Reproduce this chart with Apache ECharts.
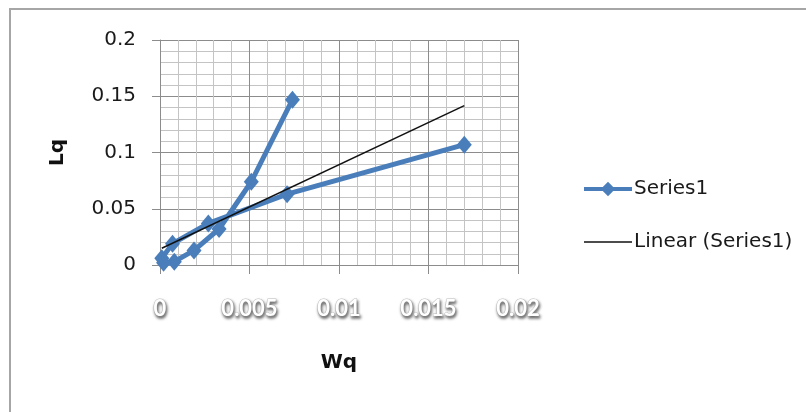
<!DOCTYPE html>
<html>
<head>
<meta charset="utf-8">
<script src="https://cdn.jsdelivr.net/npm/echarts@6/dist/echarts.min.js"></script>
<style>
html,body{margin:0;padding:0;background:#fff;}
#chart{width:806px;height:412px;}
</style>
</head>
<body>
<div id="chart"></div>
<script>
// Data (Wq, Lq), in drawing order
const wq = [0.0074, 0.0051, 0.0033, 0.0019, 0.0008, 0.0002, 0.0001, 0.0007, 0.0027, 0.0071, 0.0170];
const lq = [0.147, 0.074, 0.032, 0.013, 0.003, 0.002, 0.006, 0.019, 0.037, 0.063, 0.107];
const seriesName = 'Series1';
const trendName = 'Linear (Series1)';
const xTicks = [0, 0.005, 0.01, 0.015, 0.02];
const yTicks = [0, 0.05, 0.1, 0.15, 0.2];

// Least-squares linear trendline
const n = wq.length;
const mx = wq.reduce((a, b) => a + b, 0) / n;
const my = lq.reduce((a, b) => a + b, 0) / n;
let sxy = 0, sxx = 0;
for (let i = 0; i < n; i++) { sxy += (wq[i] - mx) * (lq[i] - my); sxx += (wq[i] - mx) ** 2; }
const slope = sxy / sxx, icpt = my - slope * mx;
const xmin = Math.min(...wq), xmax = Math.max(...wq);
const trend = [[xmin, icpt + slope * xmin], [xmax, icpt + slope * xmax]];

const chart = echarts.init(document.getElementById('chart'));
const font = 'Lato, "Liberation Sans", sans-serif';
const wide = '"DejaVu Sans", sans-serif';
chart.setOption({
  animation: false,
  backgroundColor: '#fff',
  graphic: [{
    type: 'rect', shape: { x: 10, y: 9, width: 820, height: 420 },
    style: { fill: 'none', stroke: '#a6a6a6', lineWidth: 2 }, silent: true
  }],
  grid: { left: 160, right: 288, top: 40, bottom: 147 },
  xAxis: {
    type: 'value', min: xTicks[0], max: xTicks[xTicks.length - 1], interval: 0.005,
    name: 'Wq', nameLocation: 'middle', nameGap: 88,
    nameTextStyle: { fontFamily: wide, fontWeight: 'bold', fontSize: 20, color: '#111' },
    axisLine: { show: true, onZero: false, lineStyle: { color: '#8c8c8c', width: 1 } },
    axisTick: { show: true, length: 9, lineStyle: { color: '#8c8c8c' } },
    axisLabel: {
      margin: 33, fontFamily: font, fontWeight: 'bold', fontSize: 22, color: '#ffffff',
      textBorderColor: '#c8c8c8', textBorderWidth: 1,
      textShadowColor: 'rgba(0,0,0,0.55)', textShadowBlur: 3, textShadowOffsetX: 1, textShadowOffsetY: 2,
      formatter: v => String(v)
    },
    splitLine: { show: true, lineStyle: { color: '#8c8c8c', width: 1 } },
    minorTick: { show: false, splitNumber: 5 },
    minorSplitLine: { show: true, lineStyle: { color: '#c4c4c4', width: 1 } }
  },
  yAxis: {
    type: 'value', min: yTicks[0], max: yTicks[yTicks.length - 1], interval: 0.05,
    name: 'Lq', nameLocation: 'middle', nameGap: 92, nameRotate: 90,
    nameTextStyle: { fontFamily: wide, fontWeight: 'bold', fontSize: 20, color: '#111' },
    axisLine: { show: true, onZero: false, lineStyle: { color: '#8c8c8c', width: 1 } },
    axisTick: { show: true, length: 8, lineStyle: { color: '#8c8c8c' } },
    axisLabel: { margin: 24, fontFamily: wide, fontSize: 20, color: '#1a1a1a', formatter: v => String(v) },
    splitLine: { show: true, lineStyle: { color: '#8c8c8c', width: 1 } },
    minorTick: { show: false, splitNumber: 5 },
    minorSplitLine: { show: true, lineStyle: { color: '#c4c4c4', width: 1 } }
  },
  legend: {
    orient: 'vertical', left: 577, top: 174, itemGap: 33, itemWidth: 48, itemHeight: 18,
    textStyle: { fontFamily: wide, fontSize: 20, color: '#1a1a1a', padding: [0, 0, 0, -3] },
    data: [
      { name: seriesName, lineStyle: { width: 4 } },
      { name: trendName, icon: 'path://M0,0L100,0L100,3L0,3Z', itemStyle: { color: '#111' } }
    ]
  },
  series: [
    {
      name: seriesName, type: 'line', data: wq.map((x, i) => [x, lq[i]]),
      color: '#4A7EBB', lineStyle: { width: 5, color: '#4A7EBB' },
      symbol: 'diamond', symbolSize: [15, 18], itemStyle: { color: '#4A7EBB' }, z: 3
    },
    {
      name: trendName, type: 'line', data: trend, color: '#111',
      lineStyle: { width: 1.5, color: '#111' }, symbol: 'none', z: 4
    }
  ]
});
</script>
</body>
</html>
